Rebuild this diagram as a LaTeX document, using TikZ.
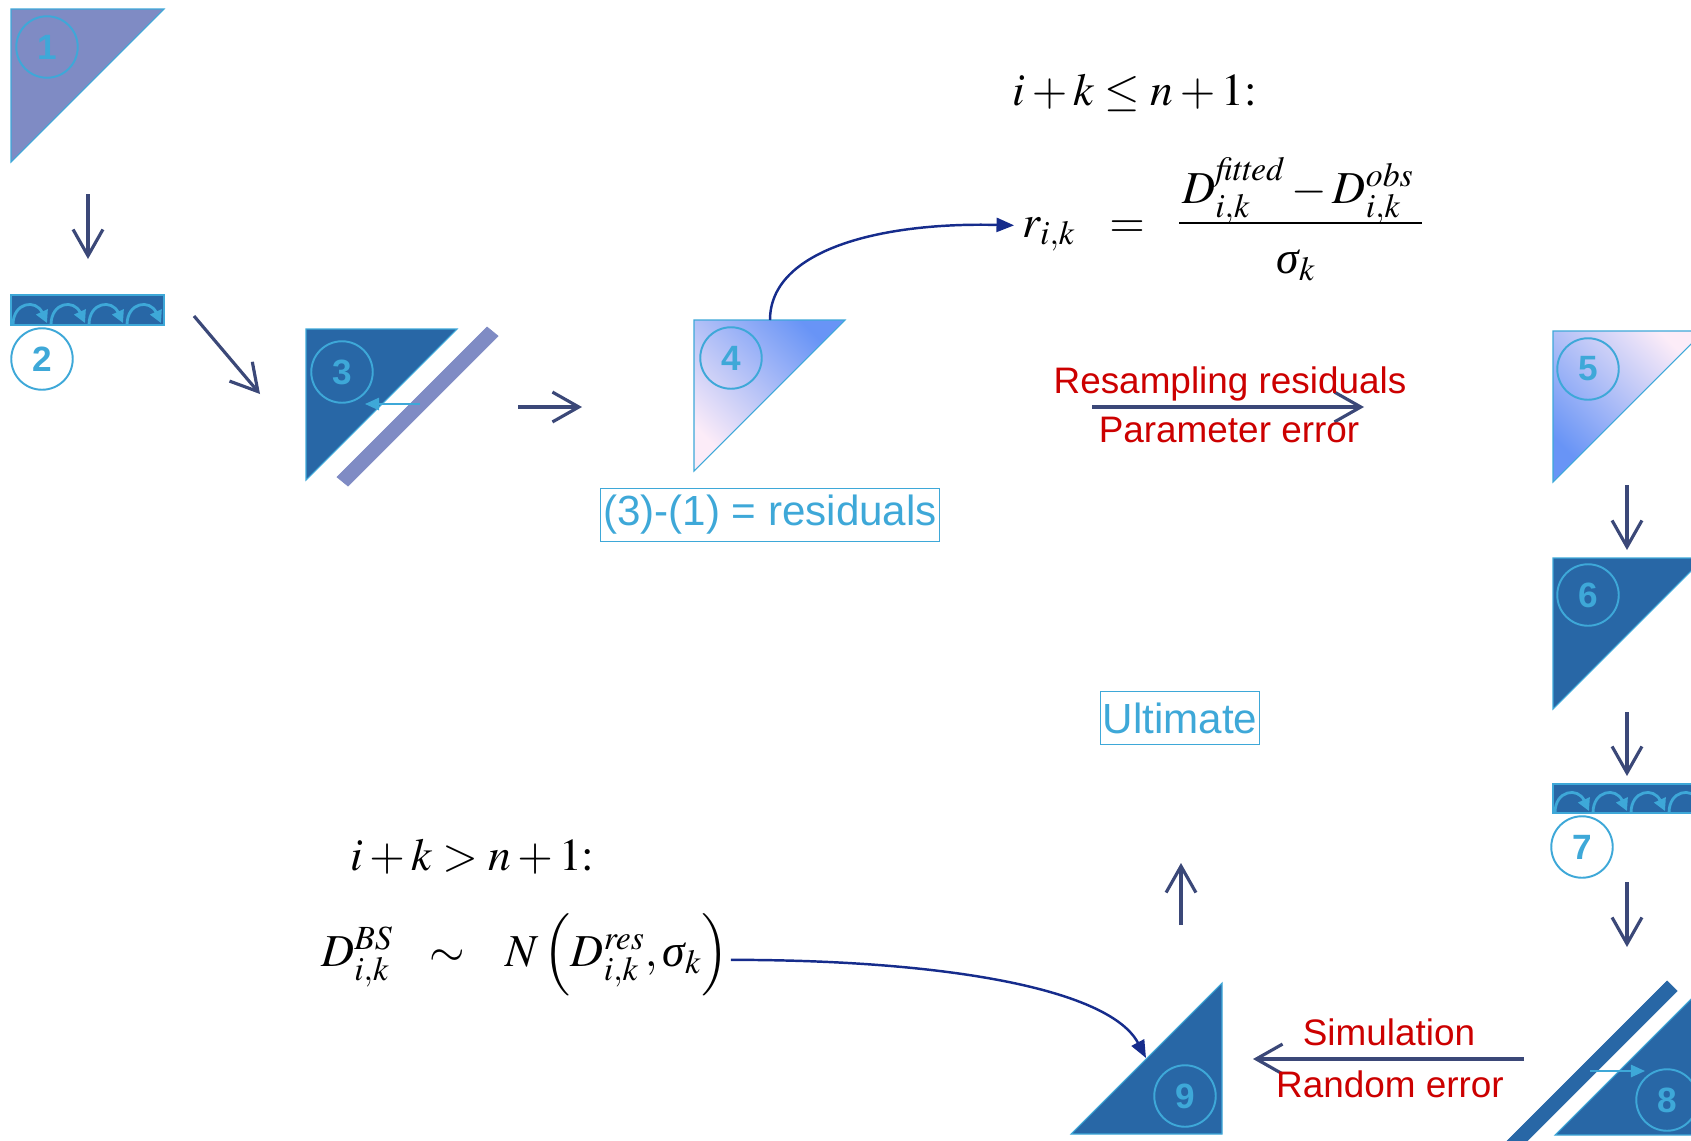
\documentclass[tikz,border=0pt]{standalone}
\usepackage{mathptmx}
\usepackage[no-math]{fontspec}
\setmainfont{Liberation Sans}
\newfontfamily\tnrfont{Liberation Serif}
\newcommand{\itsig}{\mbox{\tnrfont\itshape σ}}
\usetikzlibrary{arrows.meta}
\definecolor{dblue}{RGB}{40,103,166}
\definecolor{lblue}{RGB}{62,168,216}
\definecolor{lav}{RGB}{127,139,196}
\definecolor{navy}{RGB}{59,72,120}
\definecolor{cblue}{RGB}{22,44,140}
\definecolor{red0}{RGB}{204,0,0}
\definecolor{gpink}{RGB}{252,236,248}
\definecolor{gmid}{RGB}{216,218,250}
\definecolor{gblue}{RGB}{104,148,246}
\begin{document}
\begin{tikzpicture}[x=0.02cm,y=-0.02cm,
  tri/.style={draw=lblue, line width=0.6pt},
  numc/.style={circle, draw=lblue, line width=1.1pt, minimum size=35pt, inner sep=0pt, text=lblue, font=\fontsize{20}{20}\selectfont\bfseries},
  numw/.style={numc, fill=white},
  navyarr/.style={draw=navy, line width=1.8pt, -{Straight Barb[length=15pt,width=17pt]}},
  curvearr/.style={draw=cblue, line width=1.4pt, -{Triangle[length=10pt,width=8pt]}},
  smallarr/.style={draw=lblue, line width=1pt, -{Triangle[length=8pt,width=7pt]}},
  curl/.style={draw=lblue, line width=1.6pt, -{Triangle[length=7pt,width=7pt]}},
  mathtxt/.style={inner sep=0pt, font=\fontsize{26}{30}\selectfont},
  redtxt/.style={text=red0, font=\fontsize{21}{24}\selectfont, inner sep=0pt, anchor=base},
  bluebox/.style={draw=lblue, line width=0.6pt, text=lblue, font=\fontsize{24}{28}\selectfont, inner xsep=1.5pt, minimum height=30pt},
]
\useasboundingbox (0,0) rectangle (1691,1140);
\clip (0,0) rectangle (1691,1140);

% ---- 1
\filldraw[tri, fill=lav] (11,9) -- (164,9) -- (11,162) -- cycle;
\node[numc] (c1) at (47,47) {1};
% ---- 2
\filldraw[tri, fill=dblue] (11,295) rectangle (164,325);
\foreach \x in {12,50,88,126}
  \draw[curl] (\x+1,325) .. controls (\x+1,302) and (\x+24,299) .. (\x+35,323);
\node[numw] (c2) at (42,359) {2};
% ---- 3
\filldraw[tri, fill=dblue] (306,329) -- (457,329) -- (306,480) -- cycle;
\filldraw[fill=lav, draw=lav] (487,327) -- (498,336) -- (348,486) -- (337,477) -- cycle;
\node[numc] (c3) at (342,372) {3};
\coordinate (s3a) at (420,404);
\coordinate (s3b) at (365,404);
\draw[smallarr] (s3a) -- (s3b);
% ---- 4
\shadedraw[tri, top color=gblue, middle color=gmid, bottom color=gpink, shading angle=-45] (694,320) -- (845,320) -- (694,471) -- cycle;
\node[numc] (c4) at (731,358) {4};
\node[bluebox] (resid) at (770,515) {(3)-(1) = residuals};
% ---- 5
\shadedraw[tri, top color=gpink, middle color=gmid, bottom color=gblue, shading angle=-45] (1553,331) -- (1704,331) -- (1553,482) -- cycle;
\node[numc] (c5) at (1588,369) {5};
% ---- 6
\filldraw[tri, fill=dblue] (1553,558) -- (1704,558) -- (1553,709) -- cycle;
\node[numc] (c6) at (1588,595) {6};
% ---- 7
\filldraw[tri, fill=dblue] (1553,784) rectangle (1712,813);
\foreach \x in {1554,1592,1630,1668}
  \draw[curl] (\x+1,813) .. controls (\x+1,790) and (\x+24,787) .. (\x+35,811);
\node[numw] (c7) at (1582,847) {7};
% ---- 8
\filldraw[tri, fill=dblue] (1555,1135) -- (1706,984) -- (1706,1135) -- cycle;
\filldraw[fill=dblue, draw=dblue] (1667,981) -- (1677,991) -- (1507,1161) -- (1497,1151) -- cycle;
\node[numc] (c8) at (1667,1100) {8};
\coordinate (s8a) at (1590,1071);
\coordinate (s8b) at (1645,1071);
\draw[smallarr] (s8a) -- (s8b);
% ---- 9
\filldraw[tri, fill=dblue] (1071,1134) -- (1222,983) -- (1222,1134) -- cycle;
\node[numc] (c9) at (1185,1096) {9};
\coordinate (t9h) at (1146,1058);
\node[bluebox] (ult) at (1180,718) {Ultimate};

% ---- straight arrows
\coordinate (a1s) at (88,194);   \coordinate (a1e) at (88,259);
\coordinate (a2s) at (194,316);  \coordinate (a2e) at (260,394);
\coordinate (a3s) at (518,407);  \coordinate (a3e) at (582,407);
\coordinate (a4s) at (1092,407); \coordinate (a4e) at (1364,407);
\coordinate (a5s) at (1627,485); \coordinate (a5e) at (1627,550);
\coordinate (a6s) at (1627,712); \coordinate (a6e) at (1627,776);
\coordinate (a7s) at (1627,882); \coordinate (a7e) at (1627,947);
\coordinate (a8s) at (1524,1059); \coordinate (a8e) at (1253,1059);
\coordinate (a9s) at (1181,925); \coordinate (a9e) at (1181,863);
\draw[navyarr] (a1s) -- (a1e);
\draw[navyarr] (a2s) -- (a2e);
\draw[navyarr] (a3s) -- (a3e);
\draw[navyarr] (a4s) -- (a4e);
\draw[navyarr] (a5s) -- (a5e);
\draw[navyarr] (a6s) -- (a6e);
\draw[navyarr] (a7s) -- (a7e);
\draw[navyarr] (a8s) -- (a8e);
\draw[navyarr] (a9s) -- (a9e);

% ---- red labels
\node[redtxt] (resamp) at (1230,393) {Resampling residuals};
\node[redtxt] (paramerr) at (1229,442) {Parameter error};
\node[redtxt] (simul) at (1389,1045) {Simulation};
\node[redtxt] (randerr) at (1390,1097) {Random error};

% ---- formulas top
\node[mathtxt, anchor=base] (condA) at (1135,105) {$i+k\leq n+1{:}$};
\node[mathtxt, anchor=base west] (rik) at (1022,237) {$r_{i,k}$};
\node[mathtxt, anchor=base] (eqA) at (1127,237) {$=$};
\node[mathtxt, anchor=base] (num) at (1298,203) {$D_{i,k}^{\mathit{fitted}}-D_{i,k}^{\mathit{obs}}$};
\draw[line width=1.1pt] (1179,223) -- (1422,223);
\node[mathtxt, anchor=base] (den) at (1296,273) {$\itsig_k$};

% ---- formulas bottom
\node[mathtxt, anchor=base west] (condB) at (350,870) {$i+k>n+1{:}$};
\node[mathtxt, anchor=base west] (dbs) at (321,966) {$D_{i,k}^{BS}$};
\node[mathtxt, anchor=base] (simsym) at (447,966) {$\sim$};
\node[mathtxt, anchor=base west] (nexp) at (505,966) {$N\left(\vrule height 1.05em depth .45em width 0pt D_{i,k}^{\mathit{res}},\itsig_k\right)$};

% ---- curved arrows
\coordinate (t4top) at (770,320);
\draw[curvearr] (t4top) .. controls (770,250) and (880,222) .. ([xshift=-4.5pt,yshift=5pt]rik.west);
\draw[curvearr] ([xshift=1pt,yshift=-3pt]nexp.east) .. controls +(220,0) and (1110,990) .. (t9h);
\end{tikzpicture}
\end{document}
